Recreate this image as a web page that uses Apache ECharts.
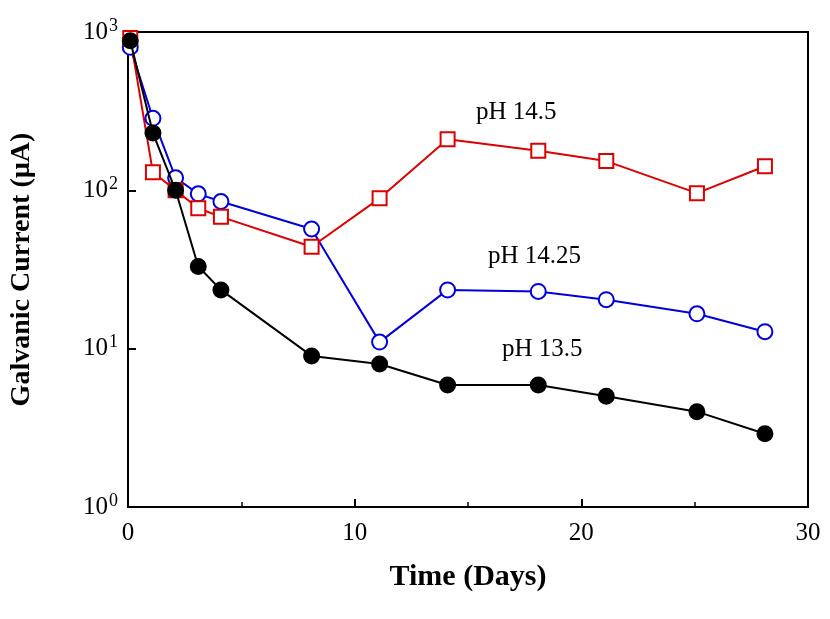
<!DOCTYPE html>
<html><head><meta charset="utf-8">
<script src="https://cdn.jsdelivr.net/npm/echarts@6/dist/echarts.min.js"></script>
<style>html,body{margin:0;padding:0;background:#fff}#c{width:830px;height:619px}</style>
</head><body><div id="c"></div>
<script>
const days = [0.1, 1.1, 2.1, 3.1, 4.1, 8.1, 11.1, 14.1, 18.1, 21.1, 25.1, 28.1];
const ph135 = [880, 230, 100, 33, 23.5, 9, 8, 5.9, 5.9, 5, 4, 2.9];
const ph1425 = [800, 285, 120, 95, 85, 57, 11, 23.5, 23, 20.4, 16.6, 12.8];
const ph145 = [915, 130, 100, 77, 68, 44, 89, 210, 178, 153, 96, 142];

const font = 'Liberation Serif';
const chart = echarts.init(document.getElementById('c'));

function pairs(ys) {
  return days.map((d, i) => [d, ys[i]]);
}
function line(name, ys, color, symbol, filled) {
  return {
    name: name, type: 'line', data: pairs(ys),
    symbol: symbol, symbolSize: symbol === 'rect' ? 14 : 15,
    lineStyle: { color: color, width: 2 },
    itemStyle: { color: filled ? color : '#fff', borderColor: color, borderWidth: 2 },
    z: filled ? 3 : 2
  };
}

chart.setOption({
  animation: false,
  grid: { left: 128, right: 22, top: 32, bottom: 112 },
  xAxis: {
    type: 'value', min: 0, max: 30, interval: 10,
    axisLine: { lineStyle: { color: '#000', width: 2 } },
    axisTick: { inside: true, length: 8, lineStyle: { color: '#000', width: 2 } },
    minorTick: { show: true, splitNumber: 2, length: 5, lineStyle: { color: '#000', width: 1.5 } },
    axisLabel: { color: '#000', fontFamily: font, fontSize: 25, margin: 14 },
    splitLine: { show: false },
    name: 'Time (Days)', nameLocation: 'middle', nameGap: 55,
    nameTextStyle: { color: '#000', fontFamily: font, fontSize: 30, fontWeight: 'bold' }
  },
  yAxis: {
    type: 'log', min: 1, max: 1000, logBase: 10,
    axisLine: { lineStyle: { color: '#000', width: 2 } },
    axisTick: { inside: true, length: 8, lineStyle: { color: '#000', width: 2 } },
    axisLabel: {
      fontFamily: font, margin: 10,
      formatter: v => '{b|10}{s|' + Math.round(Math.log10(v)) + '}',
      rich: {
        b: { color: '#000', fontFamily: font, fontSize: 25 },
        s: { color: '#000', fontFamily: font, fontSize: 18, verticalAlign: 'top', padding: [0, 0, 12, 1] }
      }
    },
    splitLine: { show: false },
    name: 'Galvanic Current (µA)', nameLocation: 'middle', nameGap: 92,
    nameTextStyle: { color: '#000', fontFamily: font, fontSize: 28, fontWeight: 'bold' }
  },
  graphic: [
    { type: 'rect', shape: { x: 128, y: 32, width: 680, height: 475 }, style: { fill: 'none', stroke: '#000', lineWidth: 2 }, silent: true },
    { type: 'text', left: 476, top: 100, style: { text: 'pH 14.5', fontFamily: font, fontSize: 25, fill: '#000' } },
    { type: 'text', left: 488, top: 244, style: { text: 'pH 14.25', fontFamily: font, fontSize: 25, fill: '#000' } },
    { type: 'text', left: 502, top: 337, style: { text: 'pH 13.5', fontFamily: font, fontSize: 25, fill: '#000' } }
  ],
  series: [
    line('pH 13.5', ph135, '#000', 'circle', true),
    line('pH 14.25', ph1425, '#0000dd', 'circle', false),
    line('pH 14.5', ph145, '#dd0000', 'rect', false)
  ]
});
</script></body></html>
